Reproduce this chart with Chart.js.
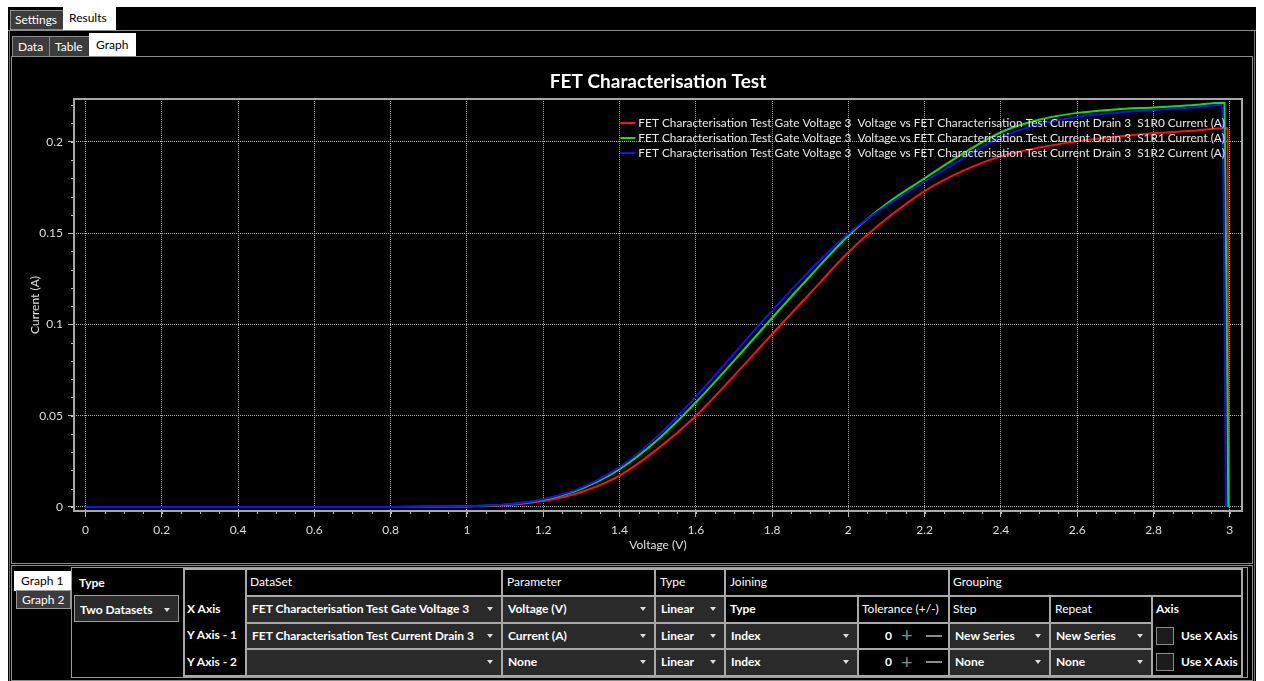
<!DOCTYPE html>
<html>
<head>
<meta charset="utf-8">
<script src="https://cdn.jsdelivr.net/npm/chart.js@4.4.1/dist/chart.umd.min.js"></script>
<style>
  body { margin: 0; width: 1264px; height: 681px; background: #fff; overflow: hidden; position: relative;
         font-family: Lato, 'Noto Sans', sans-serif; font-size: 12px; color: #fff; }
  .abs { position: absolute; box-sizing: border-box; white-space: pre; }
  #chart { position: absolute; left: 14px; top: 58px; }
</style>
</head>
<body>
<div id="ui"></div>
<canvas id="chart" width="1238" height="502"></canvas>
<script>
// gate voltage sweep (V)
const voltage = [0, 0.2, 0.4, 0.6, 0.8, 0.9, 1.0, 1.1, 1.2, 1.3, 1.4, 1.5, 1.6, 1.7, 1.8, 1.9,
                 2.0, 2.1, 2.2, 2.3, 2.4, 2.5, 2.6, 2.7, 2.8, 2.9];
// drain current (A) per series
const currentS1R0 = [0, 0, 0, 0, 0, 0.0001, 0.0003, 0.0010, 0.0032, 0.0082, 0.0172, 0.0318, 0.0498, 0.0718, 0.0946, 0.1171,
                     0.1395, 0.1578, 0.1730, 0.1840, 0.1920, 0.1968, 0.2002, 0.2027, 0.2046, 0.2060];
const currentS1R1 = [0, 0, 0, 0, 0, 0.0001, 0.0004, 0.0012, 0.0040, 0.0100, 0.0207, 0.0368, 0.0572, 0.0800, 0.1035, 0.1265,
                     0.1485, 0.1660, 0.1800, 0.1935, 0.2052, 0.2120, 0.2158, 0.2177, 0.2188, 0.2200];
const currentS1R2 = [0, 0, 0, 0, 0, 0.0001, 0.0004, 0.0013, 0.0042, 0.0106, 0.0218, 0.0388, 0.0603, 0.0839, 0.1075, 0.1297,
                     0.1497, 0.1650, 0.1780, 0.1908, 0.2025, 0.2095, 0.2136, 0.2158, 0.2173, 0.2187];
// last sample before the supply cuts off, then the drop to zero
const lastVoltage = [2.994, 2.986, 2.980];
const lastCurrent = [0.2074, 0.2214, 0.2201];
const cutoffVoltage = [2.998, 2.996, 2.990];

const seriesNames = ['S1R0', 'S1R1', 'S1R2'];
const seriesColors = ['#ff1010', '#10e010', '#1010ff'];
const xTicks = [0, 0.2, 0.4, 0.6, 0.8, 1, 1.2, 1.4, 1.6, 1.8, 2, 2.2, 2.4, 2.6, 2.8, 3];
const yTicks = [0, 0.05, 0.1, 0.15, 0.2];

// ---------- window chrome ----------
const ui = document.getElementById('ui');
function el(x, y, w, h, css, text) {
    const d = document.createElement('div');
    d.className = 'abs';
    d.style.cssText = `left:${x}px;top:${y}px;width:${w}px;height:${h}px;line-height:${h}px;${css || ''}`;
    if (text !== undefined) d.textContent = text;
    ui.appendChild(d);
    return d;
}
function dropdown(x, y, w, h, text, css) {
    const d = el(x, y, w, h, 'background:#2a2a2a;padding-left:5px;' + (css || ''), text);
    const a = document.createElement('div');
    a.style.cssText = `position:absolute;right:${8}px;top:${h / 2 - 2}px;width:0;height:0;` +
        'border-left:3.5px solid transparent;border-right:3.5px solid transparent;border-top:4px solid #ddd;';
    d.appendChild(a);
    return d;
}
const hl = (x, y, w, c) => el(x, y, w, 2, 'background:' + (c || '#a8a8a8'));
const vl = (x, y, h, c) => el(x, y, 2, h, 'background:' + (c || '#a8a8a8'));

el(8, 7, 1248, 674, 'background:#000');
// top tabs
el(10, 10, 54, 20, 'background:#3c3c3c;border:1px solid #8c8c8c;padding-left:4px;line-height:18px', 'Settings');
el(63, 7, 53, 24, 'background:#fff;color:#000;padding-left:6px;line-height:22px', 'Results');
el(8, 30, 1248, 1, 'background:#8c8c8c');
el(9, 30, 1, 651, 'background:#707070');
el(1254, 30, 1, 651, 'background:#707070');
// sub tabs
el(12, 36, 38, 21, 'background:#3c3c3c;border:1px solid #8c8c8c;padding-left:5px;line-height:19px', 'Data');
el(49, 36, 41, 21, 'background:#3c3c3c;border:1px solid #8c8c8c;padding-left:5px;line-height:19px', 'Table');
el(89, 33, 47, 24, 'background:#fff;color:#000;padding-left:7px;line-height:24px', 'Graph');
el(11, 56, 1242, 508, 'border:1px solid #8c8c8c');

// bottom settings panel
el(11, 565, 1242, 116, 'border:1px solid #8c8c8c');
el(71, 567, 1177, 111, 'border:1px solid #9a9a9a');
el(14, 571, 57, 20, 'background:#fff;color:#000;padding-left:7px;line-height:19px', 'Graph 1');
el(16, 590, 55, 19, 'background:#3c3c3c;border:1px solid #9a9a9a;padding-left:5px;line-height:17px', 'Graph 2');
el(79, 572, 60, 22, 'font-weight:bold', 'Type');
dropdown(74, 595, 105, 27, 'Two Datasets', 'border:1px solid #9a9a9a;font-weight:bold');

// table grid
const colX = [183, 245, 501, 654, 724, 857, 948, 1049, 1151, 1241];
const rowY = [568, 595, 622, 648, 675];
el(187, 595, 58, 27, 'font-weight:bold', 'X Axis');
el(187, 622, 58, 26, 'font-weight:bold', 'Y Axis - 1');
el(187, 648, 58, 27, 'font-weight:bold', 'Y Axis - 2');
el(250, 568, 200, 27, '', 'DataSet');
el(507, 568, 140, 27, '', 'Parameter');
el(660, 568, 60, 27, '', 'Type');
el(730, 568, 100, 27, '', 'Joining');
el(953, 568, 100, 27, '', 'Grouping');
el(730, 595, 100, 27, 'font-weight:bold', 'Type');
el(862, 595, 90, 27, '', 'Tolerance (+/-)');
el(953, 595, 90, 27, '', 'Step');
el(1055, 595, 90, 27, '', 'Repeat');
el(1156, 595, 80, 27, 'font-weight:bold', 'Axis');

const rows = [
    ['FET Characterisation Test Gate Voltage 3', 'Voltage (V)', 'Linear'],
    ['FET Characterisation Test Current Drain 3', 'Current (A)', 'Linear', 'Index', 'New Series', 'New Series'],
    ['', 'None', 'Linear', 'Index', 'None', 'None']
];
rows.forEach((r, i) => {
    const y = rowY[i + 1] + 1, h = rowY[i + 2] - rowY[i + 1] - 1;
    dropdown(colX[1] + 2, y, colX[2] - colX[1] - 2, h, r[0], 'font-weight:bold');
    dropdown(colX[2] + 2, y, colX[3] - colX[2] - 2, h, r[1], 'font-weight:bold');
    dropdown(colX[3] + 2, y, colX[4] - colX[3] - 2, h, r[2], 'font-weight:bold');
    if (i > 0) {
        dropdown(colX[4] + 2, y, colX[5] - colX[4] - 2, h, r[3], 'font-weight:bold');
        el(885, y, 10, h, 'font-weight:bold', '0');
        el(901, y, 16, h, 'font-size:20px;color:#8a8a8a;line-height:' + (h - 2) + 'px', '+');
        el(926, y + h / 2 - 1, 16, 2, 'background:#8a8a8a');
        dropdown(colX[6] + 2, y, colX[7] - colX[6] - 2, h, r[4], 'font-weight:bold');
        dropdown(colX[7] + 2, y, colX[8] - colX[7] - 2, h, r[5], 'font-weight:bold');
        el(1156, y + 4, 18, 18, 'border:1px solid #8a8a8a;background:#1c1c1c');
        el(1181, y, 60, h, 'font-weight:bold', 'Use X Axis');
    }
});
hl(colX[0], rowY[0], colX[9] - colX[0] + 2);
hl(colX[1], rowY[1], colX[9] - colX[1]);
hl(colX[1], rowY[2], colX[8] - colX[1]);
hl(colX[1], rowY[3], colX[8] - colX[1]);
hl(colX[0], rowY[4], colX[9] - colX[0] + 2);
[0, 1, 2, 3, 4, 6, 9].forEach(i => vl(colX[i], rowY[0], rowY[4] - rowY[0]));
[5, 7, 8].forEach(i => vl(colX[i], rowY[1], rowY[4] - rowY[1]));

// ---------- chart ----------
Chart.defaults.font.family = "Lato, 'Noto Sans', sans-serif";
Chart.defaults.font.size = 12;
Chart.defaults.color = '#dedede';

const seriesCurrents = [currentS1R0, currentS1R1, currentS1R2];
const datasets = seriesCurrents.map((cur, i) => ({
    label: 'FET Characterisation Test Gate Voltage 3  Voltage vs FET Characterisation Test Current Drain 3  ' +
        seriesNames[i] + ' Current (A)',
    data: voltage.map((v, k) => ({ x: v, y: cur[k] }))
        .concat([{ x: lastVoltage[i], y: lastCurrent[i] }, { x: cutoffVoltage[i], y: 0 }]),
    borderColor: seriesColors[i],
    borderWidth: 2,
    pointRadius: 0,
    cubicInterpolationMode: 'monotone',
    order: 3 - i
}));

const plotFrame = {
    id: 'plotFrame',
    afterLayout(chart) {
        // centre the title over the plot area rather than the canvas
        const t = chart.titleBlock, a = chart.chartArea;
        t.left = a.left;
        t.right = a.right;
        t.width = a.right - a.left;
    },
    afterDraw(chart) {
        const { ctx, chartArea: a, scales: { x, y } } = chart;
        ctx.save();
        // minor ticks
        ctx.strokeStyle = '#b8b8b8';
        ctx.lineWidth = 1;
        ctx.beginPath();
        for (let k = 0; k <= 60; k++) {
            const px = Math.round(x.getPixelForValue(k * 0.05)) + 0.5;
            ctx.moveTo(px, a.bottom);
            ctx.lineTo(px, a.bottom + 3);
        }
        for (let k = 0; k <= 22; k++) {
            const py = Math.round(y.getPixelForValue(k * 0.01)) + 0.5;
            ctx.moveTo(a.left - 3, py);
            ctx.lineTo(a.left, py);
        }
        ctx.stroke();
        // plot box
        ctx.strokeStyle = '#a8a8a8';
        ctx.lineWidth = 2;
        ctx.strokeRect(a.left, a.top, a.width, a.height);
        // legend inside plot, top right
        ctx.font = "11.85px Lato, 'Noto Sans', sans-serif";
        ctx.textBaseline = 'middle';
        ctx.textAlign = 'left';
        const w = Math.max(...chart.data.datasets.map(d => ctx.measureText(d.label).width));
        const tx = a.right - 17 - w;
        chart.data.datasets.forEach((d, i) => {
            const ty = a.top + 24 + i * 15;
            ctx.strokeStyle = d.borderColor;
            ctx.lineWidth = 2;
            ctx.beginPath();
            ctx.moveTo(tx - 18, ty);
            ctx.lineTo(tx - 3, ty);
            ctx.stroke();
            ctx.fillStyle = '#e8e8e8';
            ctx.fillText(d.label, tx, ty);
        });
        ctx.restore();
    }
};

const gridOpts = {
    color: 'rgba(200,200,200,0.85)',
    lineWidth: 1,
    tickLength: 6,
    tickColor: '#b8b8b8',
    tickWidth: 1,
    tickBorderDash: []
};

new Chart(document.getElementById('chart'), {
    type: 'line',
    data: { datasets },
    options: {
        responsive: false,
        animation: false,
        devicePixelRatio: 1,
        layout: { padding: { left: 0, right: 10, top: 0, bottom: 0 } },
        plugins: {
            legend: { display: false },
            tooltip: { enabled: false },
            title: {
                display: true,
                text: 'FET Characterisation Test',
                color: '#ffffff',
                font: { size: 19, weight: 'bold' },
                padding: { top: 12, bottom: 6.2 }
            }
        },
        scales: {
            x: {
                type: 'linear',
                min: -0.03,
                max: 3.032,
                afterBuildTicks: s => { s.ticks = xTicks.map(v => ({ value: v })); },
                afterFit: s => { s.height = 49; },
                ticks: { padding: 6, maxRotation: 0, autoSkip: false, callback: v => String(v) },
                grid: gridOpts,
                border: { display: false, dash: [1, 1] },
                title: { display: true, text: 'Voltage (V)', color: '#e0e0e0', padding: { top: 0, bottom: 8 } }
            },
            y: {
                type: 'linear',
                min: -0.0022,
                max: 0.2234,
                afterBuildTicks: s => { s.ticks = yTicks.map(v => ({ value: v })); },
                afterFit: s => { s.width = 60; },
                ticks: { padding: 5, autoSkip: false, callback: v => String(v) },
                grid: gridOpts,
                border: { display: false, dash: [1, 1] },
                title: { display: true, text: 'Current (A)', color: '#e0e0e0', padding: { top: 14, bottom: 0 } }
            }
        }
    },
    plugins: [plotFrame]
});
</script>
</body>
</html>
